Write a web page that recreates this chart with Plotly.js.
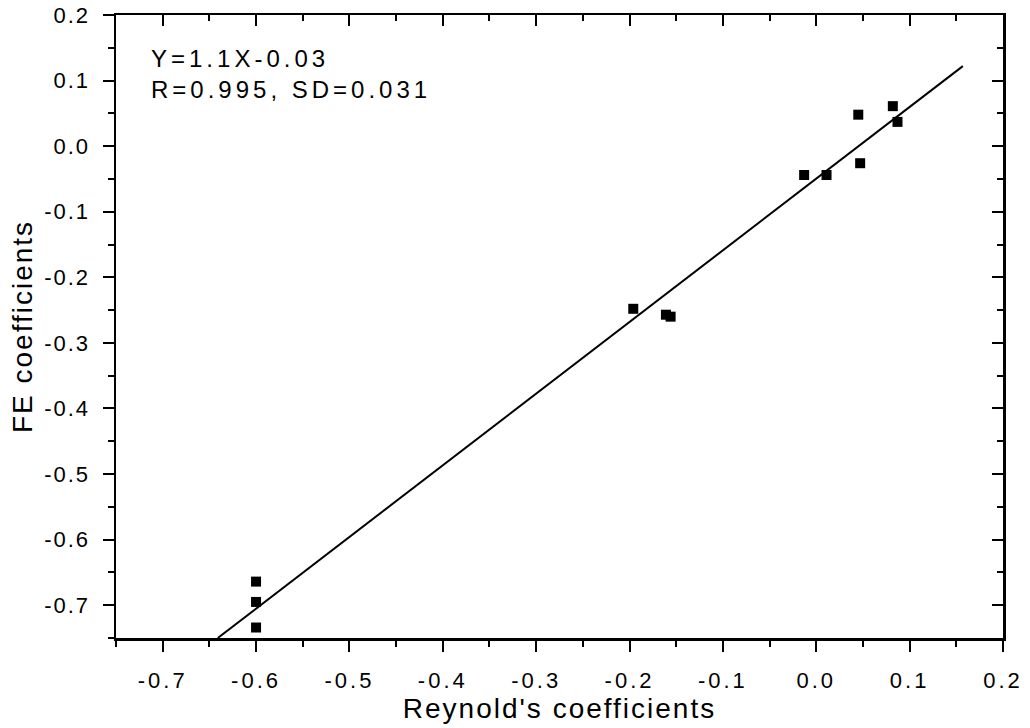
<!DOCTYPE html>
<html>
<head>
<meta charset="utf-8">
<script src="https://cdn.plot.ly/plotly-3.0.1.min.js"></script>
<style>
html,body{margin:0;padding:0;background:#fff;}
#chart{width:1030px;height:728px;}
#chart .xtick text{letter-spacing:3px;}
#chart .ytick text{letter-spacing:2px;}
#chart .xtitle, #chart .ytitle{letter-spacing:2px;}
#chart .annotation-text{letter-spacing:4px;}
</style>
</head>
<body>
<div id="chart"></div>
<script>
// Data
var reynoldsX = [-0.600, -0.600, -0.600, -0.196, -0.161, -0.156, -0.013, 0.011, 0.045, 0.047, 0.082, 0.087];
var feY       = [-0.664, -0.695, -0.734, -0.248, -0.257, -0.260, -0.044, -0.044, 0.048, -0.026, 0.061, 0.037];
var fitX = [-0.641, 0.157];
var fitY = [-0.750, 0.122];
var tickVals = [-0.7, -0.6, -0.5, -0.4, -0.3, -0.2, -0.1, 0.0, 0.1, 0.2];
var tickText = ["-0.7", "-0.6", "-0.5", "-0.4", "-0.3", "-0.2", "-0.1", "0.0", "0.1", "0.2"];
var axisRange = [-0.75, 0.2];
var xTitle = "Reynold's coefficients";
var yTitle = "FE coefficients";
var eqLines = ["Y=1.1X-0.03", "R=0.995, SD=0.031"];

var font = "Liberation Sans, Arial, sans-serif";
var traces = [
  {x: fitX, y: fitY, mode: 'lines', type: 'scatter', line: {color: '#000', width: 2}, hoverinfo: 'skip'},
  {x: reynoldsX, y: feY, mode: 'markers', type: 'scatter', marker: {symbol: 'square', size: 10, color: '#000'}}
];
var baseAxis = {
  range: axisRange, tickvals: tickVals, ticktext: tickText,
  showgrid: false, zeroline: false, showline: true, linecolor: '#000', linewidth: 2.5,
  ticks: 'outside', ticklen: 11, tickwidth: 2, tickcolor: '#000',
  minor: {dtick: 0.05, tick0: 0, ticks: 'outside', ticklen: 6, tickwidth: 2, tickcolor: '#000'},
  tickfont: {family: font, size: 22, color: '#000'}
};
function clone(o){return JSON.parse(JSON.stringify(o));}
var xa = clone(baseAxis);
xa.title = {text: xTitle, font: {family: font, size: 28, color: '#000'}, standoff: 0};
xa.ticklabelstandoff = 10;
var ya = clone(baseAxis);
ya.title = {text: yTitle, font: {family: font, size: 28, color: '#000'}, standoff: 12};
ya.ticklabelstandoff = 8;
var xa2 = clone(baseAxis);
xa2.overlaying = 'x'; xa2.side = 'top'; xa2.showticklabels = false; xa2.ticks = 'inside'; xa2.minor.ticks = 'inside';
var ya2 = clone(baseAxis);
ya2.overlaying = 'y'; ya2.side = 'right'; ya2.showticklabels = false; ya2.ticks = 'inside'; ya2.minor.ticks = 'inside';

var layout = {
  width: 1030, height: 728,
  margin: {l: 116, r: 27, t: 15, b: 90},
  paper_bgcolor: '#fff', plot_bgcolor: '#fff',
  showlegend: false,
  xaxis: xa, yaxis: ya, xaxis2: xa2, yaxis2: ya2,
  annotations: [{
    xref: 'paper', yref: 'paper', x: 0.037, y: 0.955, xanchor: 'left', yanchor: 'top',
    text: eqLines.join('<br>'), align: 'left', showarrow: false,
    font: {family: font, size: 24, color: '#000'}
  }]
};
// invisible trace to activate the mirrored (top/right) axes
traces.push({x: [null], y: [null], xaxis: 'x2', yaxis: 'y2', mode: 'markers', hoverinfo: 'skip'});
Plotly.newPlot('chart', traces, layout, {staticPlot: true});
</script>
</body>
</html>
